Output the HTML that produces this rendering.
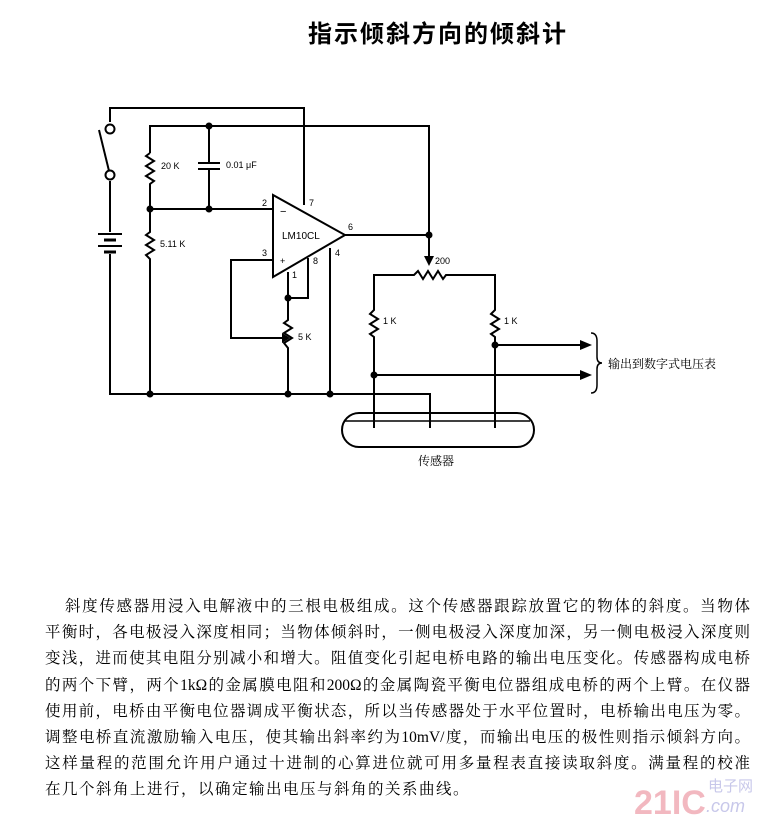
<!DOCTYPE html>
<html><head><meta charset="utf-8"><style>
body{margin:0;background:#fff;width:777px;height:824px;overflow:hidden;position:relative;font-family:"Liberation Sans","Noto Sans CJK SC",sans-serif}
.t{position:absolute;left:45px;width:705px;font-family:"Liberation Serif","Noto Serif CJK SC",serif;font-size:15.5px;line-height:20px;text-align:justify;text-align-last:justify;white-space:nowrap;color:#000}
</style></head><body>
<svg width="777" height="824" style="position:absolute;left:0;top:0" font-family="Liberation Sans, Noto Sans CJK SC, sans-serif">
<text x="308" y="42" font-size="24" font-weight="bold" font-family="Liberation Sans, Noto Sans CJK SC, sans-serif" letter-spacing="2">指示倾斜方向的倾斜计</text>
<g stroke="#000" stroke-width="2" fill="none">
<polyline points="110,122 110,108 304,108 304,205"/>
<line x1="110" y1="175" x2="99" y2="130"/>
<polyline points="110,181 110,232"/>
<line x1="98" y1="234" x2="122" y2="234" stroke-width="2"/>
<line x1="104" y1="240" x2="116" y2="240" stroke-width="3"/>
<line x1="98" y1="246" x2="122" y2="246"/>
<line x1="104" y1="252" x2="116" y2="252" stroke-width="3"/>
<polyline points="110,254 110,394 430,394 430,428"/>
<polyline points="150,153 150,126 429,126 429,262"/>
<polyline points="150,153 146,156 154,161 146,166 154,171 146,176 154,181 150,184 150,232 146,235 154,240 146,245 154,250 146,255 150,259 150,394"/>
<polyline points="209,126 209,163"/>
<line x1="198" y1="163" x2="220" y2="163"/>
<line x1="198" y1="169" x2="220" y2="169"/>
<polyline points="209,169 209,209"/>
<line x1="150" y1="209" x2="273" y2="209"/>
<polygon points="273,195 273,277 345,235"/>
<line x1="345" y1="235" x2="429" y2="235"/>
<polyline points="273,260 231,260 231,338 282,338"/>
<polyline points="288,272 288,320 284,323 292,328 284,333 292,338 284,343 288,348 288,394"/>
<polyline points="288,298 308,298 308,258"/>
<line x1="330" y1="248" x2="330" y2="394"/>
<polyline points="374,374 374,337 370,334 378,329 370,324 378,319 370,314 374,310 374,275 414,275 418,271 423,279 428,271 433,279 438,271 443,279 446,275 495,275 495,310 491,314 499,319 491,324 499,329 491,334 495,337 495,428"/>
<line x1="374" y1="374" x2="374" y2="428"/>
<line x1="495" y1="345" x2="580" y2="345"/>
<line x1="374" y1="375" x2="580" y2="375"/>
<rect x="342" y="413" width="192" height="34" rx="17"/>
<path d="M345,421 L530,421" stroke-width="1.5"/>
<path d="M591,333 q6,0 6,8 v16 q0,6 5,6 q-5,0 -5,6 v16 q0,8 -6,8" stroke-width="1.5"/>
</g>
<g fill="#000">
<polygon points="282,333 290,338 282,343"/>
<polygon points="424,256 434,256 429,266"/>
<polygon points="580,340 592,345 580,350"/>
<polygon points="580,370 592,375 580,380"/>
<circle cx="110" cy="129" r="4.5" fill="#fff" stroke="#000" stroke-width="2"/>
<circle cx="110" cy="175" r="4.5" fill="#fff" stroke="#000" stroke-width="2"/>
<circle cx="209" cy="126" r="3.5"/><circle cx="150" cy="209" r="3.5"/><circle cx="209" cy="209" r="3.5"/>
<circle cx="429" cy="235" r="3.5"/><circle cx="288" cy="298" r="3.5"/>
<circle cx="150" cy="394" r="3.5"/><circle cx="288" cy="394" r="3.5"/><circle cx="330" cy="394" r="3.5"/>
<circle cx="495" cy="345" r="3.5"/><circle cx="374" cy="375" r="3.5"/>
</g>
<g font-size="9" fill="#000">
<text x="161" y="169">20 K</text>
<text x="226" y="168">0.01 μF</text>
<text x="160" y="247">5.11 K</text>
<text x="262" y="206">2</text><text x="309" y="206">7</text>
<text x="280" y="215" font-size="11">−</text>
<text x="282" y="239" font-size="10">LM10CL</text>
<text x="348" y="230">6</text>
<text x="262" y="256">3</text><text x="280" y="264">+</text>
<text x="313" y="264">8</text><text x="292" y="278">1</text><text x="335" y="256">4</text>
<text x="298" y="340">5 K</text>
<text x="435" y="264">200</text>
<text x="383" y="324">1 K</text><text x="504" y="324">1 K</text>
</g>
<text x="608" y="368" font-size="12" font-family="Liberation Serif, Noto Serif CJK SC, serif">输出到数字式电压表</text>
<text x="418" y="465" font-size="12" font-family="Liberation Serif, Noto Serif CJK SC, serif">传感器</text>
<text x="634" y="814" font-size="34" font-weight="bold" fill="#f2b8c0" font-family="Liberation Sans, sans-serif">21IC</text>
<text x="708" y="791" font-size="15" fill="#c8c8ea">电子网</text>
<text x="706" y="812" font-size="18" font-style="italic" fill="#c8c8ea">.com</text>
</svg>
<div class="t" style="top:597px;left:65px;width:685px">斜度传感器用浸入电解液中的三根电极组成。这个传感器跟踪放置它的物体的斜度。当物体</div>
<div class="t" style="top:623px">平衡时，各电极浸入深度相同；当物体倾斜时，一侧电极浸入深度加深，另一侧电极浸入深度则</div>
<div class="t" style="top:649px">变浅，进而使其电阻分别减小和增大。阻值变化引起电桥电路的输出电压变化。传感器构成电桥</div>
<div class="t" style="top:676px">的两个下臂，两个1kΩ的金属膜电阻和200Ω的金属陶瓷平衡电位器组成电桥的两个上臂。在仪器</div>
<div class="t" style="top:702px">使用前，电桥由平衡电位器调成平衡状态，所以当传感器处于水平位置时，电桥输出电压为零。</div>
<div class="t" style="top:728px">调整电桥直流激励输入电压，使其输出斜率约为10mV/度，而输出电压的极性则指示倾斜方向。</div>
<div class="t" style="top:754px">这样量程的范围允许用户通过十进制的心算进位就可用多量程表直接读取斜度。满量程的校准</div>
<div class="t" style="top:780px;text-align-last:left;letter-spacing:1.5px">在几个斜角上进行，以确定输出电压与斜角的关系曲线。</div>
</body></html>
